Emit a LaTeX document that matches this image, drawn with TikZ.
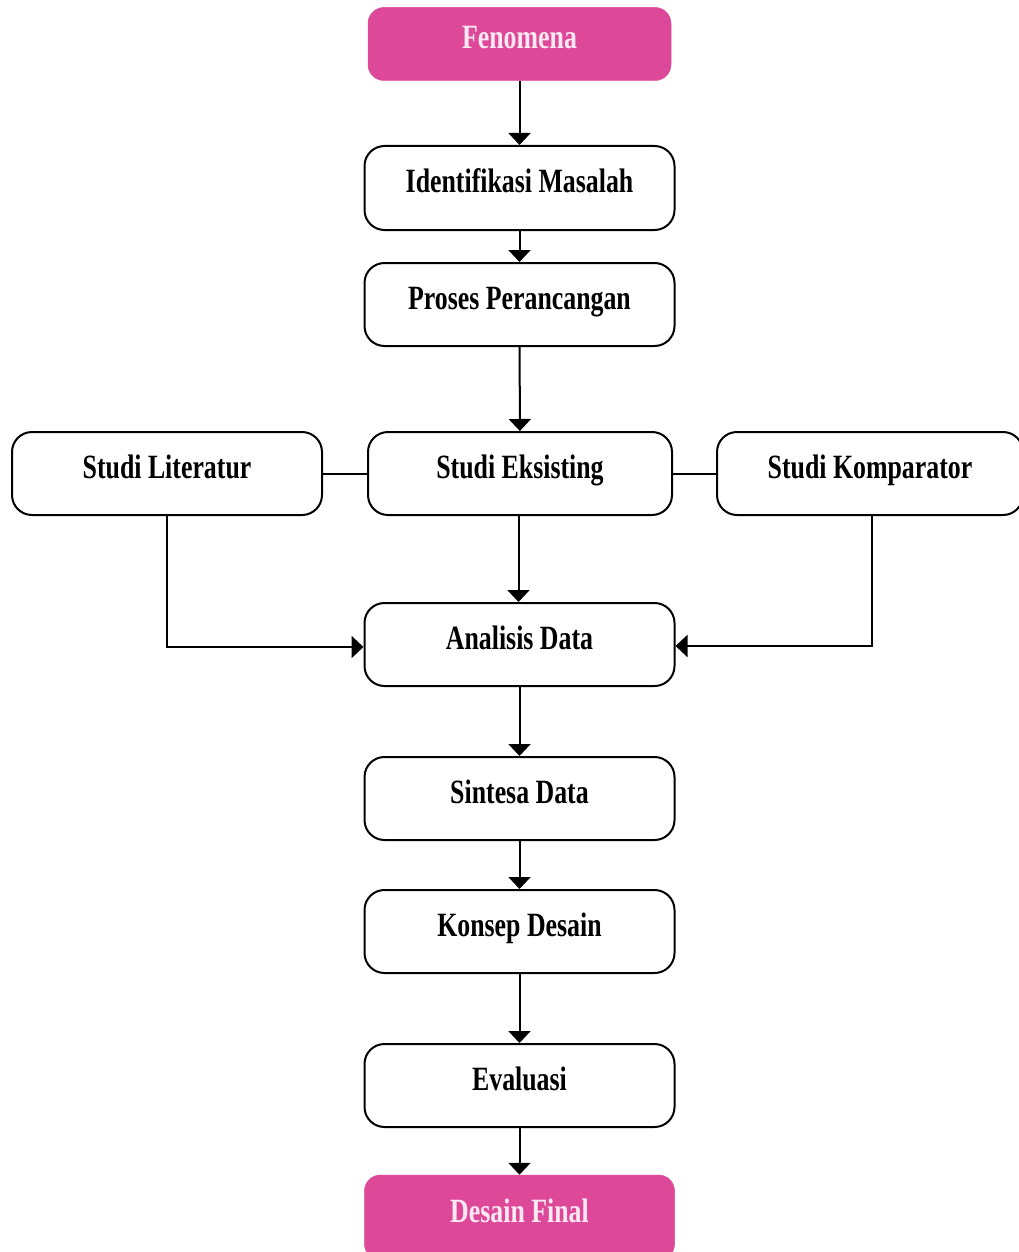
\documentclass[tikz,border=0pt]{standalone}
\usepackage{fontspec}
\setmainfont{Liberation Serif}[FakeStretch=0.76]
\usetikzlibrary{arrows.meta}
\definecolor{pinkbox}{HTML}{DD4899}
\definecolor{pinktext}{HTML}{FBE8F2}
\begin{document}
\begin{tikzpicture}[x=1pt,y=-1pt,
  flowbox/.style={draw=black, line width=2pt, rounded corners=20pt, fill=white,
    minimum width=310pt, minimum height=83pt, inner sep=0pt,
    font=\fontsize{34}{34}\selectfont\bfseries, text height=20pt, text depth=10pt},
  endbox/.style={flowbox, draw=pinkbox, line width=0.5pt, fill=pinkbox, text=pinktext, rounded corners=16pt},
  flowarrow/.style={line width=2pt, -{Triangle[length=12pt,width=22pt]}},
  flowline/.style={line width=2pt}]
\useasboundingbox (0,0) rectangle (1019,1252);
\node[endbox, minimum width=303pt, minimum height=73pt] (fen) at (519.5,44) {Fenomena};
\node[flowbox, minimum height=84pt] (iden) at (519.5,188) {Identifikasi Masalah};
\node[flowbox] (pros) at (519.5,304.5) {Proses Perancangan};
\node[flowbox] (lit) at (167,473.5) {Studi Literatur};
\node[flowbox, minimum width=304pt] (eks) at (520,473.5) {Studi Eksisting};
\node[flowbox, minimum width=306pt] (kom) at (870,473.5) {Studi Komparator};
\node[flowbox] (ana) at (519.5,644.5) {Analisis Data};
\node[flowbox] (sin) at (519.5,798.5) {Sintesa Data};
\node[flowbox] (kon) at (519.5,931.5) {Konsep Desain};
\node[flowbox] (eva) at (519.5,1085.5) {Evaluasi};
\node[endbox, minimum width=310pt, minimum height=85pt] (fin) at (519.5,1217.5) {Desain Final};

\draw[flowarrow] (fen) -- (iden);
\draw[flowarrow] (iden) -- (pros);
\draw[flowarrow] (pros) -- (eks);
\draw[flowarrow] ([xshift=-1.5pt]eks.south) -- ([xshift=-1.5pt]eks.south |- ana.north);
\draw[flowarrow] (ana) -- (sin);
\draw[flowarrow] (sin) -- (kon);
\draw[flowarrow] (kon) -- (eva);
\draw[flowarrow] (eva) -- (fin);
\draw[flowline] (lit) -- (eks);
\draw[flowline] (eks) -- (kom);
\draw[flowarrow] (lit.south) |- ([yshift=-2.5pt]ana.west);
\draw[flowarrow] ([xshift=2pt]kom.south) |- ([yshift=-1.5pt]ana.east);
\end{tikzpicture}
\end{document}
